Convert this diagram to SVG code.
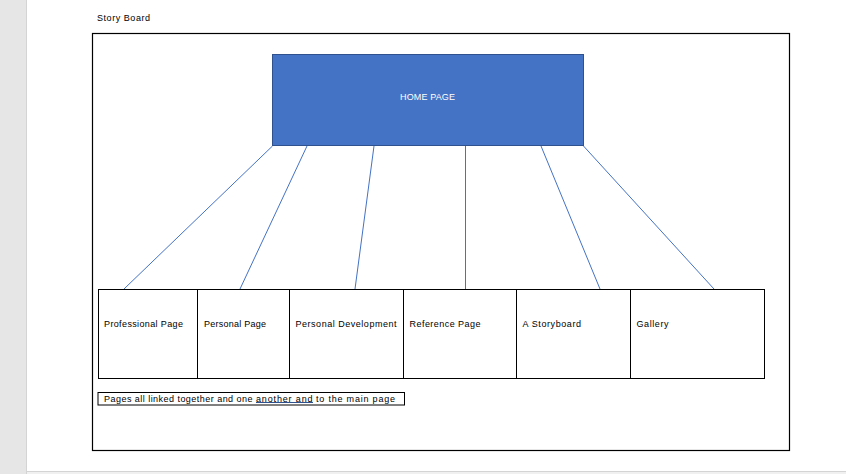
<svg xmlns="http://www.w3.org/2000/svg" width="846" height="474" viewBox="0 0 846 474">
<style>
.t{font-family:"Liberation Sans",Arial,sans-serif;font-size:9px;fill:#000}
.box{fill:#fff;stroke:#000;stroke-width:1}
.conn{stroke:#4472C4;stroke-width:1;fill:none}
</style>
<rect x="0" y="0" width="846" height="474" fill="#fff"/>
<rect x="0" y="0" width="26" height="474" fill="#E6E6E6"/>
<line x1="26.5" y1="0" x2="26.5" y2="474" stroke="#D4D4D4"/>
<rect x="27" y="471" width="819" height="3" fill="#F0F0F0"/>
<line x1="27" y1="471.5" x2="846" y2="471.5" stroke="#D4D4D4"/>
<text class="t" x="97" y="20.5" textLength="53" lengthAdjust="spacing">Story Board</text>
<rect x="92.5" y="33.5" width="697" height="417" fill="none" stroke="#000" stroke-width="1.2"/>
<g id="connectors">
<line class="conn" x1="272.5" y1="146" x2="124" y2="289"/>
<line class="conn" x1="307" y1="146" x2="240" y2="289"/>
<line class="conn" x1="374" y1="146" x2="355" y2="289"/>
<line class="conn" x1="465.5" y1="146" x2="465.5" y2="289"/>
<line class="conn" x1="541" y1="146" x2="600" y2="289"/>
<line class="conn" x1="583.5" y1="146" x2="714" y2="289"/>
</g>
<g id="home">
<rect x="272.5" y="54.5" width="311" height="91" fill="#4472C4" stroke="#2F528F" stroke-width="1"/>
<text class="t" x="427.5" y="100" text-anchor="middle" style="fill:#fff" textLength="55" lengthAdjust="spacing">HOME PAGE</text>
</g>
<g id="professional">
<rect class="box" x="98.5" y="289.5" width="99" height="89"/>
<text class="t" x="104" y="326.5" textLength="79" lengthAdjust="spacing">Professional Page</text>
</g>
<g id="personal">
<rect class="box" x="197.5" y="289.5" width="92" height="89"/>
<text class="t" x="204" y="326.5" textLength="62" lengthAdjust="spacing">Personal Page</text>
</g>
<g id="development">
<rect class="box" x="289.5" y="289.5" width="114" height="89"/>
<text class="t" x="295.5" y="326.5" textLength="101" lengthAdjust="spacing">Personal Development</text>
</g>
<g id="reference">
<rect class="box" x="403.5" y="289.5" width="113" height="89"/>
<text class="t" x="409.5" y="326.5" textLength="71" lengthAdjust="spacing">Reference Page</text>
</g>
<g id="storyboard">
<rect class="box" x="516.5" y="289.5" width="114" height="89"/>
<text class="t" x="522.5" y="326.5" textLength="58.5" lengthAdjust="spacing">A Storyboard</text>
</g>
<g id="gallery">
<rect class="box" x="630.5" y="289.5" width="134" height="89"/>
<text class="t" x="636.5" y="326.5" textLength="32" lengthAdjust="spacing">Gallery</text>
</g>
<g id="caption">
<rect class="box" x="98" y="392.5" width="306.5" height="12.5"/>
<text class="t" y="401.5"><tspan x="104" textLength="148.5" lengthAdjust="spacing">Pages all linked together and one</tspan> <tspan x="256" textLength="56.5" lengthAdjust="spacing">another  and</tspan> <tspan x="316" textLength="79" lengthAdjust="spacing">to the main page</tspan></text>
<line x1="256" y1="402.5" x2="313" y2="402.5" stroke="#2F528F" stroke-width="1"/>
</g>
</svg>
